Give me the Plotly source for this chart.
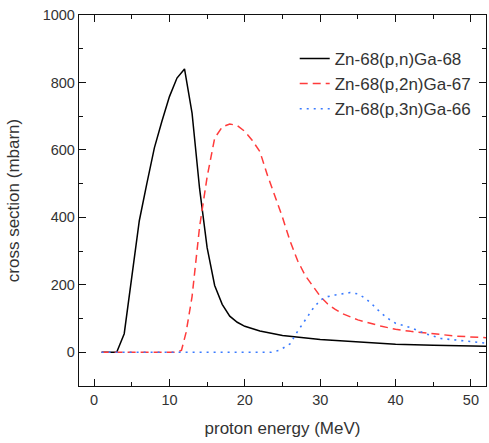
import plotly.graph_objects as go

# (p,n) Ga-68
x_pn = [1, 3, 4, 5, 6, 7, 8, 9, 10, 11, 12, 13, 14, 15, 16, 17, 18, 19, 20, 22, 25, 30, 35, 40, 45, 50, 52]
y_pn = [0, 0, 55, 225, 390, 500, 606, 685, 758, 813, 840, 709, 485, 310, 198, 142, 107, 89, 77, 63, 50, 38, 30, 24, 21, 19, 18]

# (p,2n) Ga-67
x_p2n = [1, 11, 11.6, 12.2, 13, 14, 15, 16, 17, 18, 19, 20, 21, 22, 23, 24, 25, 26, 27, 28, 29, 30, 31, 32, 33, 35, 38, 40, 42, 45, 48, 52]
y_p2n = [0, 0, 6, 58, 165, 372, 520, 635, 668, 677, 672, 655, 628, 595, 525, 462, 400, 330, 272, 228, 196, 166, 143, 127, 114, 96, 78, 68, 62, 54, 48, 43]

# (p,3n) Ga-66
x_p3n = [1, 23.5, 24.6, 26, 27, 28, 29, 30, 31, 32, 33, 34, 35, 36, 37, 38, 39, 40, 42, 44, 46, 48, 50, 52]
y_p3n = [0, 0, 6, 25, 62, 97, 128, 155, 165, 170, 174, 177, 173, 160, 140, 118, 100, 86, 73, 55, 41, 36, 32, 27]

names = ["Zn-68(p,n)Ga-68", "Zn-68(p,2n)Ga-67", "Zn-68(p,3n)Ga-66"]

x_range = [-2, 52]
y_range = [-100, 1000]
x_ticks = [0, 10, 20, 30, 40, 50]
y_ticks = [0, 200, 400, 600, 800, 1000]

font_family = "Liberation Sans, Arial, sans-serif"

fig = go.Figure()
fig.add_trace(go.Scatter(x=x_pn, y=y_pn, mode="lines", name=names[0],
                         line=dict(color="#000000", width=1.5)))
fig.add_trace(go.Scatter(x=x_p2n, y=y_p2n, mode="lines", name=names[1],
                         line=dict(color="#ff3b3b", width=1.5, dash="8px,5px")))
fig.add_trace(go.Scatter(x=x_p3n, y=y_p3n, mode="lines", name=names[2],
                         line=dict(color="#3a7bff", width=1.6, dash="2px,5px")))

axis_common = dict(
    showline=True, linecolor="#111", linewidth=1.3, mirror="ticks",
    ticks="inside", ticklen=7, tickwidth=1.2, tickcolor="#111",
    showgrid=False, zeroline=False,
    tickfont=dict(family=font_family, size=14.5, color="#333"),
)

fig.update_layout(
    width=489, height=443,
    margin=dict(l=79, r=2.5, t=15, b=57),
    paper_bgcolor="white", plot_bgcolor="white",
    font=dict(family=font_family, color="#333"),
    xaxis=dict(range=x_range, tickvals=x_ticks,
               minor=dict(ticks="inside", ticklen=4, dtick=5, tick0=0, tickcolor="#111"),
               title=dict(text="proton energy (MeV)", font=dict(size=17, color="#333"), standoff=15),
               **axis_common),
    yaxis=dict(range=y_range, tickvals=y_ticks,
               minor=dict(ticks="inside", ticklen=4, dtick=100, tick0=0, tickcolor="#111"),
               title=dict(text="cross section (mbarn)", font=dict(size=17, color="#333"), standoff=18),
               **axis_common),
    legend=dict(x=0.53, y=0.93, xanchor="left", yanchor="top",
                bgcolor="rgba(0,0,0,0)", borderwidth=0,
                font=dict(family=font_family, size=17, color="#333"),
                tracegroupgap=0),
    showlegend=True,
)

fig.write_html("out.html", config={"displayModeBar": False},
               post_script="document.body.style.margin='0';document.body.style.overflow='hidden';")
